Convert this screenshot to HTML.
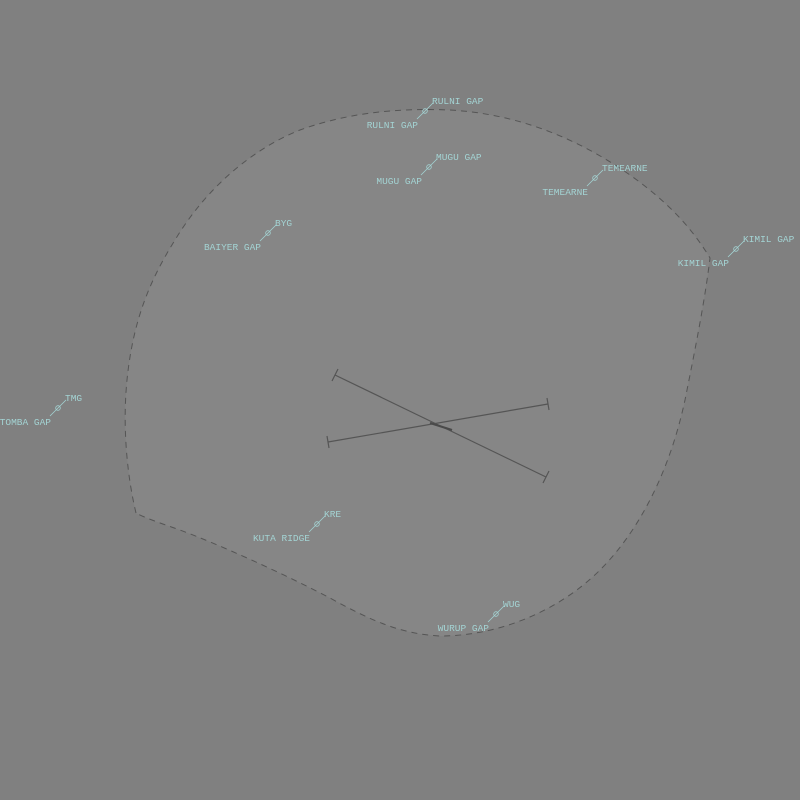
<!DOCTYPE html>
<html><head><meta charset="utf-8"><style>
html,body{margin:0;padding:0;background:#808080;}
svg{display:block}
text{font-family:"Liberation Mono",monospace;font-size:9.5px;fill:#a3d3d3;}
</style></head><body>
<svg width="800" height="800" viewBox="0 0 800 800">
<rect width="800" height="800" fill="#808080"/>
<path d="M136,513 C128,480 122,430 127,380 C133,320 150,280 175,240 C205,190 250,150 300,130 C350,112 400,108 450,110 C520,114 580,140 630,175 C665,200 690,225 710,258 C705,300 695,350 685,400 C670,470 640,530 600,570 C560,610 500,636 440,636 C400,634 370,620 330,598 C280,572 220,545 180,530 C160,523 145,518 136,513 Z" fill="#868686" stroke="#555" stroke-width="1" stroke-dasharray="6,5"/>
<g stroke="#555" stroke-width="1.2" fill="none">
<line x1="335" y1="375" x2="546" y2="477"/>
<line x1="332" y1="381" x2="338" y2="369"/>
<line x1="543" y1="483" x2="549" y2="471"/>
</g>
<g stroke="#555" stroke-width="1.2" fill="none">
<line x1="328" y1="442" x2="548" y2="404"/>
<line x1="327" y1="436" x2="329" y2="448"/>
<line x1="547" y1="398" x2="549" y2="410"/>
</g>
<line x1="430" y1="423" x2="452" y2="430" stroke="#4a4a4a" stroke-width="2"/>
<g id="wps"></g>
</svg>
<script>
const names=['RULNI GAP','MUGU GAP','TEMEARNE','KIMIL GAP','BYG','TMG','KRE','WUG'];
const lowers=['RULNI GAP','MUGU GAP','TEMEARNE','KIMIL GAP','BAIYER GAP','TOMBA GAP','KUTA RIDGE','WURUP GAP'];
const px=[425,429,595,736,268,58,317,496];
const py=[111,167,178,249,233,408,524,614];
const g=document.getElementById('wps');
const NS='http://www.w3.org/2000/svg';
for(let i=0;i<names.length;i++){
  const x=px[i],y=py[i];
  const grp=document.createElementNS(NS,'g');
  
  
  const l=document.createElementNS(NS,'line');
  l.setAttribute('x1',x-8);l.setAttribute('y1',y+8);l.setAttribute('x2',x+8);l.setAttribute('y2',y-8);
  l.setAttribute('stroke','#a3d3d3');l.setAttribute('stroke-width','0.8');
  grp.appendChild(l);
  const c=document.createElementNS(NS,'circle');
  c.setAttribute('cx',x);c.setAttribute('cy',y);c.setAttribute('r','2.3');
  c.setAttribute('fill','none');c.setAttribute('stroke','#a3d3d3');c.setAttribute('stroke-width','0.8');
  grp.appendChild(c);
  const t1=document.createElementNS(NS,'text');
  t1.setAttribute('x',x+7);t1.setAttribute('y',y-7);t1.textContent=names[i];
  
  
  grp.appendChild(t1);
  const t2=document.createElementNS(NS,'text');
  t2.setAttribute('x',x-7);t2.setAttribute('y',y+17);t2.setAttribute('text-anchor','end');t2.textContent=lowers[i];
  
  
  grp.appendChild(t2);
  g.appendChild(grp);
}
</script>
</body></html>
